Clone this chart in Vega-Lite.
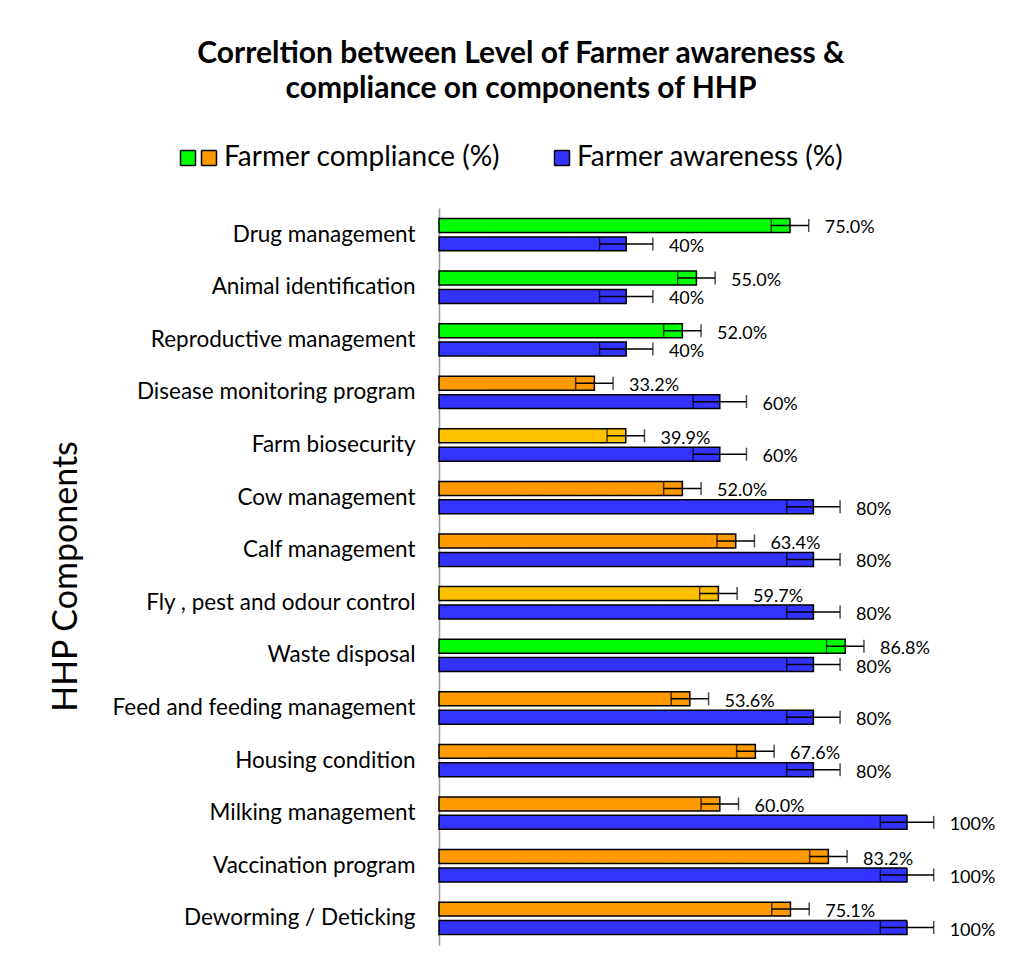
{
  "$schema": "https://vega.github.io/schema/vega-lite/v6.json",
  "width": 468,
  "height": 737,
  "autosize": {"type": "none"},
  "padding": {"left": 439, "top": 208, "right": 119, "bottom": 26},
  "background": "white",
  "config": {
    "font": "Lato",
    "view": {"stroke": null},
    "legend": {
      "orient": "none",
      "direction": "horizontal",
      "title": null,
      "symbolType": "square",
      "symbolSize": 225,
      "symbolStrokeColor": "black",
      "symbolStrokeWidth": 1.5,
      "symbolDash": [1, 0],
      "labelFont": "Lato",
      "labelFontSize": 28,
      "labelColor": "black",
      "labelOffset": 1,
      "labelLimit": 500,
      "padding": 0
    }
  },
  "title": {
    "text": ["Correltion between Level of Farmer awareness  &", "compliance on components of HHP"],
    "font": "Lato",
    "fontSize": 30,
    "fontWeight": "bold",
    "color": "black",
    "anchor": "middle",
    "frame": "group",
    "dx": -152,
    "offset": 40,
    "lineHeight": 35
  },
  "data": {
    "values": [
      {"component": "Drug management", "measure": "Compliance", "status": "Compliance high", "value": 75.0, "err": 4, "label": "75.0%"},
      {"component": "Drug management", "measure": "Awareness", "status": "Awareness", "value": 40, "err": 5.7, "label": "40%"},
      {"component": "Animal identification", "measure": "Compliance", "status": "Compliance high", "value": 55.0, "err": 4, "label": "55.0%"},
      {"component": "Animal identification", "measure": "Awareness", "status": "Awareness", "value": 40, "err": 5.7, "label": "40%"},
      {"component": "Reproductive management", "measure": "Compliance", "status": "Compliance high", "value": 52.0, "err": 4, "label": "52.0%"},
      {"component": "Reproductive management", "measure": "Awareness", "status": "Awareness", "value": 40, "err": 5.7, "label": "40%"},
      {"component": "Disease monitoring program", "measure": "Compliance", "status": "Compliance", "value": 33.2, "err": 4, "label": "33.2%"},
      {"component": "Disease monitoring program", "measure": "Awareness", "status": "Awareness", "value": 60, "err": 5.7, "label": "60%"},
      {"component": "Farm biosecurity", "measure": "Compliance", "status": "Compliance mid", "value": 39.9, "err": 4, "label": "39.9%"},
      {"component": "Farm biosecurity", "measure": "Awareness", "status": "Awareness", "value": 60, "err": 5.7, "label": "60%"},
      {"component": "Cow management", "measure": "Compliance", "status": "Compliance", "value": 52.0, "err": 4, "label": "52.0%"},
      {"component": "Cow management", "measure": "Awareness", "status": "Awareness", "value": 80, "err": 5.7, "label": "80%"},
      {"component": "Calf management", "measure": "Compliance", "status": "Compliance", "value": 63.4, "err": 4, "label": "63.4%"},
      {"component": "Calf management", "measure": "Awareness", "status": "Awareness", "value": 80, "err": 5.7, "label": "80%"},
      {"component": "Fly , pest and odour control", "measure": "Compliance", "status": "Compliance mid", "value": 59.7, "err": 4, "label": "59.7%"},
      {"component": "Fly , pest and odour control", "measure": "Awareness", "status": "Awareness", "value": 80, "err": 5.7, "label": "80%"},
      {"component": "Waste disposal", "measure": "Compliance", "status": "Compliance high", "value": 86.8, "err": 4, "label": "86.8%"},
      {"component": "Waste disposal", "measure": "Awareness", "status": "Awareness", "value": 80, "err": 5.7, "label": "80%"},
      {"component": "Feed and feeding management", "measure": "Compliance", "status": "Compliance", "value": 53.6, "err": 4, "label": "53.6%"},
      {"component": "Feed and feeding management", "measure": "Awareness", "status": "Awareness", "value": 80, "err": 5.7, "label": "80%"},
      {"component": "Housing condition", "measure": "Compliance", "status": "Compliance", "value": 67.6, "err": 4, "label": "67.6%"},
      {"component": "Housing condition", "measure": "Awareness", "status": "Awareness", "value": 80, "err": 5.7, "label": "80%"},
      {"component": "Milking management", "measure": "Compliance", "status": "Compliance", "value": 60.0, "err": 4, "label": "60.0%"},
      {"component": "Milking management", "measure": "Awareness", "status": "Awareness", "value": 100, "err": 5.7, "label": "100%"},
      {"component": "Vaccination program", "measure": "Compliance", "status": "Compliance", "value": 83.2, "err": 4, "label": "83.2%"},
      {"component": "Vaccination program", "measure": "Awareness", "status": "Awareness", "value": 100, "err": 5.7, "label": "100%"},
      {"component": "Deworming / Deticking", "measure": "Compliance", "status": "Compliance", "value": 75.1, "err": 4, "label": "75.1%"},
      {"component": "Deworming / Deticking", "measure": "Awareness", "status": "Awareness", "value": 100, "err": 5.7, "label": "100%"}
    ]
  },
  "transform": [
    {"calculate": "datum.value - datum.err", "as": "lo"},
    {"calculate": "datum.value + datum.err", "as": "hi"}
  ],
  "encoding": {
    "y": {
      "field": "component",
      "type": "nominal",
      "sort": null,
      "scale": {"paddingInner": 0.385, "paddingOuter": 0.2},
      "axis": {
        "title": "HHP Components",
        "titleFont": "Lato",
        "titleFontSize": 34,
        "titleFontWeight": "normal",
        "titleColor": "black",
        "titleX": -373,
        "titleY": 368,
        "titleBaseline": "middle",
        "titleAngle": -90,
        "labelFont": "Lato",
        "labelFontSize": 22.5,
        "labelColor": "black",
        "labelPadding": 24,
        "labelLimit": 400,
        "ticks": false,
        "domainColor": "#999999",
        "domainWidth": 1.5,
        "grid": false
      }
    },
    "yOffset": {
      "field": "measure",
      "type": "nominal",
      "sort": ["Compliance", "Awareness"],
      "scale": {"paddingInner": 0.24, "paddingOuter": 0}
    }
  },
  "layer": [
    {
      "mark": {"type": "bar", "strokeWidth": 1.5},
      "encoding": {
        "x": {"field": "value", "type": "quantitative", "scale": {"domain": [0, 100], "nice": false}, "axis": null},
        "color": {
          "field": "status",
          "type": "nominal",
          "scale": {
            "domain": ["Compliance high", "Compliance", "Compliance mid", "Awareness"],
            "range": ["#00FF00", "#FF9900", "#FFC000", "#3333FF"]
          },
          "legend": {
            "values": ["Compliance"],
            "labelExpr": "'Farmer compliance (%)'",
            "legendX": -244,
            "legendY": -64
          }
        },
        "strokeDash": {
          "field": "component",
          "type": "nominal",
          "sort": null,
          "scale": {"range": [[1, 0]]},
          "legend": {
            "values": ["Drug management"],
            "labelExpr": "''",
            "symbolFillColor": "#00FF00",
            "legendX": -265,
            "legendY": -64
          }
        },
        "stroke": {
          "field": "measure",
          "type": "nominal",
          "scale": {"domain": ["Awareness", "Compliance"], "range": ["black", "black"]},
          "legend": {
            "values": ["Awareness"],
            "labelExpr": "'Farmer awareness  (%)'",
            "symbolFillColor": "#3333FF",
            "legendX": 109,
            "legendY": -64
          }
        }
      }
    },
    {
      "mark": {"type": "rule", "color": "black", "strokeWidth": 1.5},
      "encoding": {
        "x": {"field": "lo", "type": "quantitative"},
        "x2": {"field": "hi"}
      }
    },
    {
      "mark": {"type": "tick", "orient": "vertical", "color": "black", "thickness": 1.5, "size": 13},
      "encoding": {
        "x": {"field": "lo", "type": "quantitative"}
      }
    },
    {
      "mark": {"type": "tick", "orient": "vertical", "color": "black", "thickness": 1.5, "size": 13},
      "encoding": {
        "x": {"field": "hi", "type": "quantitative"}
      }
    },
    {
      "mark": {"type": "text", "align": "left", "baseline": "middle", "dx": 16, "dy": 3, "fontSize": 18, "font": "Lato", "color": "black"},
      "encoding": {
        "x": {"field": "hi", "type": "quantitative"},
        "text": {"field": "label", "type": "nominal"}
      }
    }
  ]
}
